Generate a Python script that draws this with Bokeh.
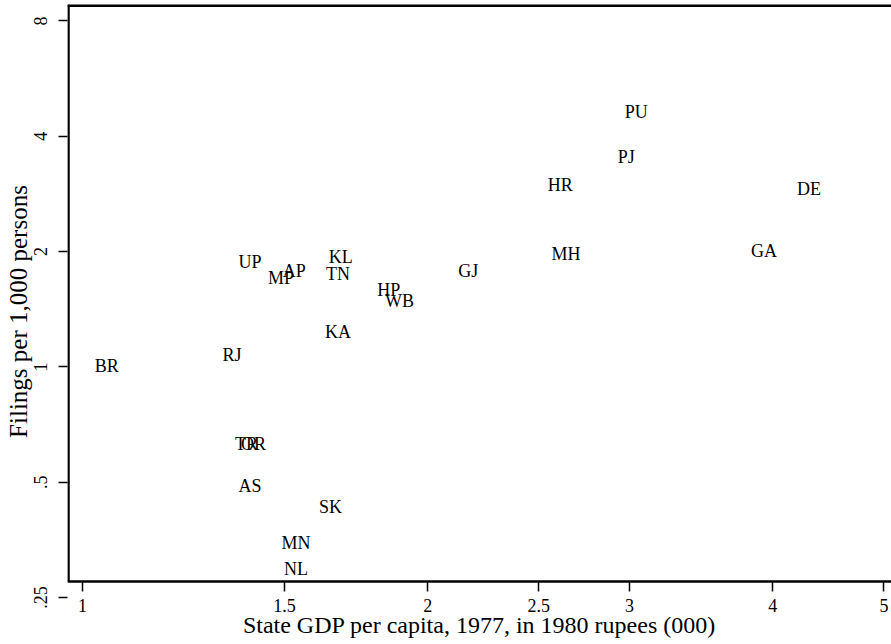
from bokeh.plotting import figure
from bokeh.models import LogAxis, FixedTicker, ColumnDataSource, Range1d
from bokeh.core.properties import value
from bokeh.embed import file_html
from bokeh.resources import INLINE

# ---- data ----
states = ["PU", "PJ", "HR", "DE", "MH", "GA", "UP", "MP", "AP", "KL", "TN", "HP",
          "WB", "GJ", "KA", "RJ", "BR", "TR", "OR", "AS", "SK", "MN", "NL"]
gdp = [3.04, 2.98, 2.61, 4.30, 2.64, 3.93, 1.40, 1.49, 1.53, 1.68, 1.67, 1.85,
       1.89, 2.17, 1.67, 1.35, 1.05, 1.39, 1.41, 1.40, 1.645, 1.535, 1.535]
filings = [4.62, 3.54, 2.99, 2.91, 1.97, 2.01, 1.88, 1.71, 1.78, 1.94, 1.745, 1.59,
           1.49, 1.78, 1.23, 1.075, 1.005, 0.63, 0.63, 0.49, 0.432, 0.346, 0.296]

x_ticks = [1, 1.5, 2, 2.5, 3, 4, 5]
x_tick_labels = ["1", "1.5", "2", "2.5", "3", "4", "5"]
y_ticks = [0.25, 0.5, 1, 2, 4, 8]
y_tick_labels = [".25", ".5", "1", "2", "4", "8"]

x_title = "State GDP per capita, 1977, in 1980 rupees (000)"
y_title = "Filings per 1,000 persons"

# ---- layout constants ----
XMIN, XMAX = 0.9703, 5.076
YMIN, YMAX = 0.2204, 8.83
X_AXIS_AT = 0.2753      # where the x axis line sits (the y axis' .25 tick hangs below it)
Y_LINE_AT = 0.9726
TOP_LINE_AT = 8.76
FONT = "Liberation Serif"

p = figure(width=891, height=644, output_backend="svg", toolbar_location=None,
           x_axis_type="log", y_axis_type="log",
           x_range=Range1d(XMIN, XMAX), y_range=Range1d(YMIN, YMAX),
           min_border_left=67, min_border_right=0, min_border_top=4,
           min_border_bottom=26)
for ax in list(p.below) + list(p.left):
    ax.visible = False
p.outline_line_color = None
p.grid.visible = False
p.background_fill_color = "white"
p.border_fill_color = "white"


def bare(axis):
    axis.ticker = FixedTicker(ticks=[], minor_ticks=[])
    axis.major_label_text_font_size = "0px"
    axis.major_label_standoff = 0
    axis.major_tick_out = 0
    axis.major_tick_in = 0
    axis.major_tick_line_color = None
    axis.minor_tick_line_color = None
    return axis


# x axis ticks and labels
xax = LogAxis(fixed_location=X_AXIS_AT)
xax.ticker = FixedTicker(ticks=x_ticks, minor_ticks=[])
xax.major_label_overrides = {t: l for t, l in zip(x_ticks, x_tick_labels)}
xax.major_label_text_font = FONT
xax.major_label_text_font_size = "18px"
xax.major_label_text_color = "black"
xax.major_label_standoff = 8
xax.axis_line_width = 2.5
xax.axis_line_color = "black"
xax.major_tick_out = 10
xax.major_tick_in = 0
xax.major_tick_line_width = 1.5
xax.minor_tick_line_color = None
p.add_layout(xax, "below")

# x axis title
xtitle = bare(LogAxis())
xtitle.axis_line_color = None
xtitle.axis_label = x_title
xtitle.axis_label_text_font = FONT
xtitle.axis_label_text_font_size = "24px"
xtitle.axis_label_text_font_style = "normal"
xtitle.axis_label_text_color = "black"
xtitle.axis_label_standoff = -7
p.add_layout(xtitle, "below")

# y axis ticks, labels and title
yax = LogAxis()
yax.ticker = FixedTicker(ticks=y_ticks, minor_ticks=[])
yax.major_label_overrides = {t: l for t, l in zip(y_ticks, y_tick_labels)}
yax.axis_label = y_title
yax.axis_label_text_font = FONT
yax.axis_label_text_font_size = "25px"
yax.axis_label_text_font_style = "normal"
yax.axis_label_text_color = "black"
yax.axis_label_standoff = 0
yax.major_label_text_font = FONT
yax.major_label_text_font_size = "18px"
yax.major_label_text_color = "black"
yax.major_label_orientation = "vertical"
yax.major_label_standoff = 11
yax.axis_line_color = None
yax.major_tick_out = 9
yax.major_tick_in = 0
yax.major_tick_line_width = 1.5
yax.minor_tick_line_color = None
p.add_layout(yax, "left")

# y axis line (stops at the x axis)
yline = bare(LogAxis(fixed_location=Y_LINE_AT, bounds=(X_AXIS_AT, YMAX)))
yline.axis_line_width = 2.5
yline.axis_line_color = "black"
p.add_layout(yline, "left")

# top border line
topline = bare(LogAxis(fixed_location=TOP_LINE_AT))
topline.axis_line_width = 3
topline.axis_line_color = "black"
p.add_layout(topline, "above")

src = ColumnDataSource(dict(x=gdp, y=filings, t=states))
p.text(x="x", y="y", text="t", source=src, text_align="center",
       text_baseline="middle", text_font=value(FONT), text_font_size="18px",
       text_color="black")

open("out.html", "w").write(file_html(p, INLINE))
